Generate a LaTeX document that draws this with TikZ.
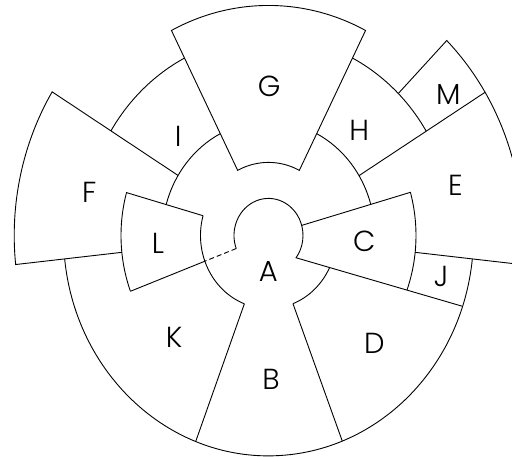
\documentclass[tikz,border=0pt]{standalone}
\usepackage{fontspec}
\IfFontExistsTF{Poppins Light}{\setmainfont{Poppins Light}}{\setmainfont{Poppins}}
\begin{document}
\begin{tikzpicture}[x=1pt,y=1pt,
  lbl/.style={font=\fontsize{29}{29}\selectfont, inner sep=0pt},
  edge/.style={line width=0.9pt, line join=miter, black}]
\def\Ra{34.5}\def\Rb{68}\def\Rc{106.3}\def\Rd{147.5}\def\Re{185.2}
\def\Rg{214}\def\Rk{205}\def\Rf{254.3}
\useasboundingbox (-268.5,-221.5) rectangle (243.5,235.5);
\clip (-268.5,-221.5) rectangle (243.5,235.5);
\begin{scope}[yscale=1.075, edge]
  % centre keyhole and the C/J/D edge
  \draw (200.6:\Ra) arc[start angle=200.6, end angle=-36.9, radius=\Ra] -- (-18.75:\Rk);
  \draw[dash pattern=on 5pt off 3pt] (200.6:\Ra) -- (200.6:\Rb);
  \draw (200.6:\Rb) -- (200.6:\Rd);
  % inner ring arcs
  \draw (164.3:\Rb) arc[start angle=164.3, end angle=249.2, radius=\Rb];
  \draw (291.1:\Rb) arc[start angle=291.1, end angle=334, radius=\Rb];
  % G
  \draw (63.03:\Rb) arc[start angle=63.03, end angle=116.97, radius=\Rb]
        -- (116.97:\Rg) arc[start angle=116.97, end angle=63.03, radius=\Rg] -- cycle;
  % second ring arcs
  \draw (116.97:\Rc) arc[start angle=116.97, end angle=164.3, radius=\Rc];
  \draw (15.8:\Rc) arc[start angle=15.8, end angle=63.03, radius=\Rc];
  % L
  \draw (164.3:\Rb) -- (164.3:\Rd) arc[start angle=164.3, end angle=200.6, radius=\Rd];
  % C
  \draw (15.8:\Ra) -- (15.8:\Rd) arc[start angle=15.8, end angle=-20.1, radius=\Rd];
  % I and H outer arcs
  \draw (116.97:\Re) arc[start angle=116.97, end angle=148.3, radius=\Re];
  \draw (31.6:\Re) arc[start angle=31.6, end angle=63.03, radius=\Re];
  % F
  \draw (148.3:\Rc) -- (148.3:\Rf) arc[start angle=148.3, end angle=186.1, radius=\Rf] -- (186.1:\Rd);
  % E and M
  \draw (31.6:\Rc) -- (31.6:\Rf);
  \draw (45.5:\Re) -- (45.5:\Rf) arc[start angle=45.5, end angle=-6.1, radius=\Rf] -- (-6.1:\Rd);
  % K, B, D, J outer arc
  \draw (186.1:\Rk) arc[start angle=186.1, end angle=353.9, radius=\Rk];
  % B edges
  \draw (249.2:\Rb) -- (249.2:\Rk);
  \draw (291.1:\Rb) -- (291.1:\Rk);
\end{scope}
\node[lbl] (A) at (-0.2,-36.2) {A};
\node[lbl] (B) at (2.5,-144.2) {B};
\node[lbl] (C) at (95.8,-5.8) {C};
\node[lbl] (D) at (105.8,-107.5) {D};
\node[lbl] (E) at (186.8,50.5) {E};
\node[lbl] (F) at (-179.2,42.8) {F};
\node[lbl] (G) at (0.8,149.5) {G};
\node[lbl] (H) at (90.8,104.8) {H};
\node[lbl] (I) at (-90.2,98.8) {I};
\node[lbl] (J) at (172.5,-40.8) {J};
\node[lbl] (K) at (-94.5,-101.8) {K};
\node[lbl] (L) at (-110.5,-8) {L};
\node[lbl] (M) at (179.8,140.5) {M};
\end{tikzpicture}
\end{document}
